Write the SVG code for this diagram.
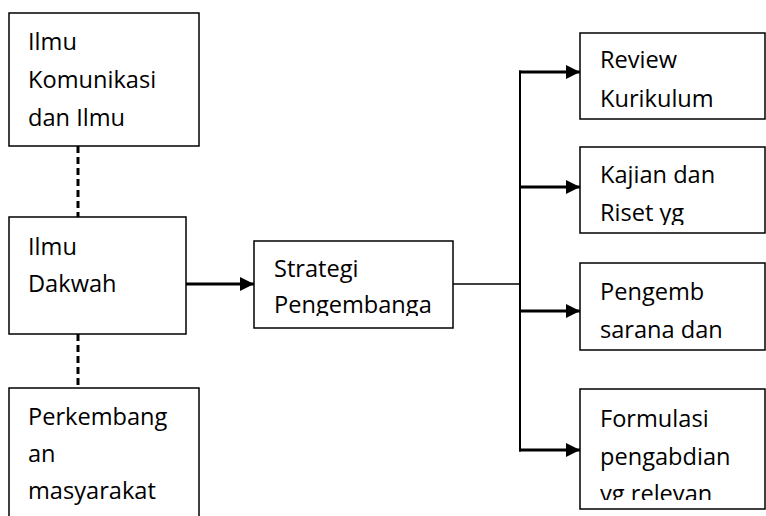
<svg xmlns="http://www.w3.org/2000/svg" width="766" height="516" viewBox="0 0 766 516">
<style>
.box{fill:#fff;stroke:#000;stroke-width:1.5}
.t{font-family:"Open Sans","Liberation Sans",sans-serif;font-size:23.6px;fill:#000}
.dash{stroke:#000;stroke-width:3;stroke-dasharray:7 4;fill:none}
.thick{stroke:#000;stroke-width:3;fill:none}
.thin{stroke:#000;stroke-width:1.5;fill:none}
</style>
<defs>
<marker id="ah" markerUnits="userSpaceOnUse" markerWidth="15" markerHeight="15" refX="14" refY="7" orient="auto">
<path d="M0,0 L14,7 L0,14 z" fill="#000"/>
</marker>
<clipPath id="c-str"><rect x="254" y="241" width="199" height="75"/></clipPath>
<clipPath id="c-kaj"><rect x="580" y="147" width="185" height="78"/></clipPath>
<clipPath id="c-for"><rect x="580" y="389" width="185" height="111"/></clipPath>
</defs>
<g id="connectors">
<line class="dash" x1="78" y1="146" x2="78" y2="217"/>
<line class="dash" x1="78" y1="334" x2="78" y2="388"/>
<line class="thick" x1="186" y1="284" x2="254" y2="284" marker-end="url(#ah)"/>
<line class="thin" x1="453" y1="284" x2="520" y2="284"/>
<line class="thick" x1="520" y1="70.5" x2="520" y2="451.5" style="stroke-width:2"/>
<line class="thick" x1="519" y1="72" x2="580" y2="72" marker-end="url(#ah)"/>
<line class="thick" x1="519" y1="187" x2="580" y2="187" marker-end="url(#ah)"/>
<line class="thick" x1="519" y1="311" x2="580" y2="311" marker-end="url(#ah)"/>
<line class="thick" x1="519" y1="450" x2="580" y2="450" marker-end="url(#ah)"/>
</g>
<g id="node-komunikasi">
<rect class="box" x="9" y="13" width="190" height="133"/>
<text class="t" x="28" y="50">Ilmu</text>
<text class="t" x="28" y="88">Komunikasi</text>
<text class="t" x="28" y="126">dan Ilmu</text>
</g>
<g id="node-dakwah">
<rect class="box" x="9" y="217" width="177" height="117"/>
<text class="t" x="28" y="255">Ilmu</text>
<text class="t" x="28" y="292">Dakwah</text>
</g>
<g id="node-perkembangan">
<rect class="box" x="9" y="388" width="190" height="140"/>
<text class="t" x="28" y="425">Perkembang</text>
<text class="t" x="28" y="462">an</text>
<text class="t" x="28" y="499">masyarakat</text>
</g>
<g id="node-strategi">
<rect class="box" x="254" y="241" width="199" height="87"/>
<g clip-path="url(#c-str)">
<text class="t" x="274" y="277">Strategi</text>
<text class="t" x="274" y="313">Pengembanga</text>
</g>
</g>
<g id="node-review">
<rect class="box" x="580" y="33" width="185" height="86"/>
<text class="t" x="600" y="68">Review</text>
<text class="t" x="600" y="107">Kurikulum</text>
</g>
<g id="node-kajian">
<rect class="box" x="580" y="147" width="185" height="86"/>
<g clip-path="url(#c-kaj)">
<text class="t" x="600" y="183">Kajian dan</text>
<text class="t" x="600" y="221">Riset yg</text>
</g>
</g>
<g id="node-pengemb">
<rect class="box" x="580" y="263" width="185" height="87"/>
<text class="t" x="600" y="300">Pengemb</text>
<text class="t" x="600" y="338">sarana dan</text>
</g>
<g id="node-formulasi">
<rect class="box" x="580" y="389" width="185" height="120"/>
<g clip-path="url(#c-for)">
<text class="t" x="600" y="427">Formulasi</text>
<text class="t" x="600" y="465">pengabdian</text>
<text class="t" x="600" y="502">yg relevan</text>
</g>
</g>
</svg>
